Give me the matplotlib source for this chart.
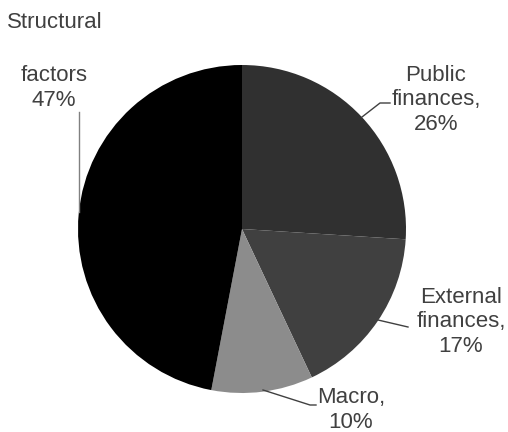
import matplotlib
matplotlib.use('Agg')
import matplotlib.pyplot as plt

# data
labels = ['Public\nfinances,\n26%', 'External\nfinances,\n17%', 'Macro,\n10%', 'factors\n47%']
shares = [26, 17, 10, 47]
colours = ['#303030', '#404040', '#8c8c8c', '#000000']

plt.rcParams['font.family'] = ['Liberation Sans', 'DejaVu Sans']
txt = '#404040'

fig = plt.figure(figsize=(5.08, 4.32), dpi=100)
ax = fig.add_axes([0, 0, 1, 1])

# pixel coords, y down; pie drawn in flipped axis so go counterclockwise
cx, cy, r = 242, 229, 164
ax.pie(shares, colors=colours, startangle=-90, counterclock=True,
       center=(cx, cy), radius=r, frame=True,
       wedgeprops=dict(linewidth=0))
ax.set_xlim(0, 508)
ax.set_ylim(432, 0)
ax.set_aspect('equal')
ax.axis('off')

fs = 16
ls = 1.22
# text label positions (pixel) and leader lines
ax.text(436, 100, labels[0], ha='center', va='center', fontsize=fs, color=txt, linespacing=ls)
ax.plot([362, 380, 390], [117, 103, 103], color='#404040', lw=1)

ax.text(461, 322, labels[1], ha='center', va='center', fontsize=fs, color=txt, linespacing=ls)
ax.plot([378, 408], [320, 327], color='#404040', lw=1)

ax.text(351, 410, labels[2], ha='center', va='center', fontsize=fs, color=txt, linespacing=ls)
ax.plot([263, 310, 316], [390, 405, 405], color='#404040', lw=1)

ax.text(7, 23, 'Structural', ha='left', va='center', fontsize=fs, color=txt)
ax.text(54, 88, labels[3], ha='center', va='center', fontsize=fs, color=txt, linespacing=ls)
ax.plot([79, 79], [112, 212], color='#808080', lw=1)

fig.savefig('out.png', dpi=100)
